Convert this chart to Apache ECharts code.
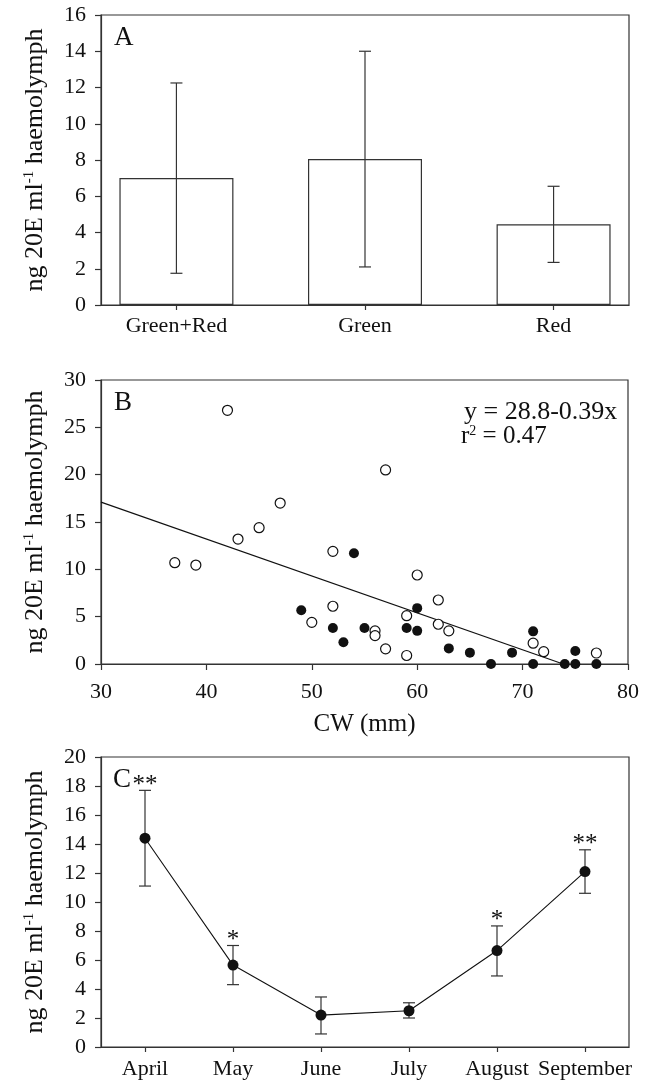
<!DOCTYPE html>
<html>
<head>
<meta charset="utf-8">
<script src="https://cdn.jsdelivr.net/npm/echarts@6/dist/echarts.min.js"></script>
<style>
  html, body { margin: 0; padding: 0; background: #fff; }
  #main { width: 650px; height: 1080px; }
</style>
</head>
<body>
<div id="main"></div>
<script>
  // panel A: colour groups
  const groupNames = ['Green+Red', 'Green', 'Red'];
  const groupMean = [7.0, 8.05, 4.45];
  const groupLow = [1.75, 2.1, 2.35];
  const groupHigh = [12.25, 14.0, 6.55];

  // panel B: CW vs ecdysteroid, open and filled circles
  const openCW = [37, 39, 42, 43, 45, 47, 50, 52, 52, 56, 56, 57, 57, 59, 59, 60, 62, 62, 63, 71, 72, 77];
  const openVal = [10.7, 10.45, 26.8, 13.2, 14.4, 17.0, 4.4, 11.9, 6.1, 3.5, 3.0, 20.5, 1.6, 5.1, 0.9, 9.4, 6.76, 4.2, 3.5, 2.2, 1.3, 1.16];
  const filledCW = [49, 52, 53, 54, 55, 59, 60, 60, 63, 65, 67, 69, 71, 71, 74, 75, 75, 77];
  const filledVal = [5.67, 3.8, 2.3, 11.7, 3.8, 3.8, 5.9, 3.5, 1.65, 1.2, 0.0, 1.2, 3.45, 0.0, 0.0, 0.0, 1.37, 0.0];
  const regIntercept = 28.8;
  const regSlope = -0.39;
  const regR2 = 0.47;

  // panel C: months
  const months = ['April', 'May', 'June', 'July', 'August', 'September'];
  const monthMean = [14.4, 5.65, 2.2, 2.5, 6.65, 12.1];
  const monthLow = [11.1, 4.3, 0.9, 2.0, 4.9, 10.6];
  const monthHigh = [17.7, 7.0, 3.45, 3.05, 8.35, 13.6];
  const monthSig = ['**', '*', '', '', '*', '**'];

  const serif = 'Liberation Serif';
  const ink = '#111';
  const lineCol = '#333';

  const chart = echarts.init(document.getElementById('main'));

  // 回归线端点，从方程算
  const regStart = 30;
  const regEnd = -regIntercept / regSlope;
  const regLine = [[regStart, regIntercept + regSlope * regStart], [regEnd, 0]];

  const errBar = function (sig) {
    return function (params, api) {
      const x = api.value(0);
      const top = api.coord([x, api.value(2)]);
      const bot = api.coord([x, api.value(1)]);
      const hw = 6;
      const st = { stroke: lineCol, lineWidth: 1.2 };
      const kids = [
        { type: 'line', shape: { x1: top[0], y1: top[1], x2: bot[0], y2: bot[1] }, style: st },
        { type: 'line', shape: { x1: top[0] - hw, y1: top[1], x2: top[0] + hw, y2: top[1] }, style: st },
        { type: 'line', shape: { x1: bot[0] - hw, y1: bot[1], x2: bot[0] + hw, y2: bot[1] }, style: st }
      ];
      if (sig && sig[params.dataIndex]) {
        kids.push({
          type: 'text',
          style: {
            text: sig[params.dataIndex], x: top[0], y: top[1] - 5,
            align: 'center', verticalAlign: 'middle',
            font: '25px "' + serif + '"', fill: ink
          }
        });
      }
      return { type: 'group', children: kids };
    };
  };

  const yTitle = {
    name: '{a|ng 20E ml}{s|-1}{a| haemolymph}',
    nameLocation: 'middle',
    nameRotate: 90,
    nameGap: 53,
    nameTextStyle: {
      rich: {
        a: { fontFamily: serif, fontSize: 26, color: ink },
        s: { fontFamily: serif, fontSize: 15, color: ink, verticalAlign: 'top' }
      }
    }
  };
  const axisBase = {
    axisLine: { show: true, onZero: false, lineStyle: { color: lineCol, width: 1.2 } },
    axisTick: { show: true, inside: false, length: 6, lineStyle: { color: lineCol, width: 1.2 } },
    splitLine: { show: false },
    axisLabel: { fontFamily: serif, fontSize: 22, color: ink, margin: 15 }
  };

  const option = {
    backgroundColor: '#fff',
    animation: false,
    grid: [
      { left: 101, top: 15, width: 528, height: 290, show: true, borderColor: lineCol, borderWidth: 1.2 },
      { left: 101, top: 380, width: 527, height: 284, show: true, borderColor: lineCol, borderWidth: 1.2 },
      { left: 101, top: 757, width: 528, height: 290, show: true, borderColor: lineCol, borderWidth: 1.2 }
    ],
    xAxis: [
      Object.assign({}, axisBase, {
        gridIndex: 0, type: 'value', min: 0.6, max: 3.4,
        axisTick: Object.assign({}, axisBase.axisTick, { customValues: [1, 2, 3], length: 5 }),
        axisLabel: Object.assign({}, axisBase.axisLabel, {
          customValues: [1, 2, 3], margin: 10,
          formatter: function (v) { return groupNames[Math.round(v) - 1]; }
        })
      }),
      Object.assign({}, axisBase, {
        gridIndex: 1, type: 'value', min: 30, max: 80, interval: 10,
        axisLabel: Object.assign({}, axisBase.axisLabel, { margin: 17 }),
        name: 'CW (mm)', nameLocation: 'middle', nameGap: 48,
        nameTextStyle: { fontFamily: serif, fontSize: 25, color: ink }
      }),
      Object.assign({}, axisBase, {
        gridIndex: 2, type: 'category', data: months, boundaryGap: true,
        axisTick: Object.assign({}, axisBase.axisTick, { alignWithLabel: true, length: 5 }),
        axisLabel: Object.assign({}, axisBase.axisLabel, { margin: 11, interval: 0 })
      })
    ],
    yAxis: [
      Object.assign({}, axisBase, yTitle, { gridIndex: 0, type: 'value', min: 0, max: 16, interval: 2 }),
      Object.assign({}, axisBase, yTitle, { gridIndex: 1, type: 'value', min: 0, max: 30, interval: 5 }),
      Object.assign({}, axisBase, yTitle, { gridIndex: 2, type: 'value', min: 0, max: 20, interval: 2 })
    ],
    graphic: [
      { type: 'text', left: 114, top: 24, style: { text: 'A', font: '27px "' + serif + '"', fill: ink } },
      { type: 'text', left: 114, top: 389, style: { text: 'B', font: '27px "' + serif + '"', fill: ink } },
      { type: 'text', left: 113, top: 766, style: { text: 'C', font: '27px "' + serif + '"', fill: ink } },
      {
        type: 'text', left: 464, top: 399,
        style: { text: 'y = ' + regIntercept.toFixed(1) + '-' + Math.abs(regSlope).toFixed(2) + 'x', font: '26px "' + serif + '"', fill: ink }
      },
      {
        type: 'text', left: 461, top: 424,
        style: {
          text: '{a|r}{s|2}{a| = ' + regR2.toFixed(2) + '}',
          rich: {
            a: { fontFamily: serif, fontSize: 25, fill: ink },
            s: { fontFamily: serif, fontSize: 14, fill: ink, verticalAlign: 'top' }
          }
        }
      }
    ],
    series: [
      {
        type: 'bar', xAxisIndex: 0, yAxisIndex: 0, barWidth: 114,
        data: groupMean.map(function (v, i) { return [i + 1, v]; }),
        itemStyle: { color: '#fff', borderColor: lineCol, borderWidth: 1.2 },
        z: 2
      },
      {
        type: 'custom', xAxisIndex: 0, yAxisIndex: 0, z: 3,
        renderItem: errBar(null),
        data: groupMean.map(function (v, i) { return [i + 1, groupLow[i], groupHigh[i]]; })
      },
      {
        type: 'line', xAxisIndex: 1, yAxisIndex: 1, data: regLine,
        symbol: 'none', lineStyle: { color: ink, width: 1.1 }, z: 2
      },
      {
        type: 'scatter', xAxisIndex: 1, yAxisIndex: 1, symbolSize: 10,
        data: openCW.map(function (x, i) { return [x, openVal[i]]; }),
        itemStyle: { color: '#fff', borderColor: ink, borderWidth: 1.2, opacity: 1 }, z: 3
      },
      {
        type: 'scatter', xAxisIndex: 1, yAxisIndex: 1, symbolSize: 10,
        data: filledCW.map(function (x, i) { return [x, filledVal[i]]; }),
        itemStyle: { color: ink, opacity: 1 }, z: 4
      },
      {
        type: 'custom', xAxisIndex: 2, yAxisIndex: 2, z: 2,
        renderItem: errBar(monthSig),
        data: months.map(function (m, i) { return [i, monthLow[i], monthHigh[i]]; })
      },
      {
        type: 'line', xAxisIndex: 2, yAxisIndex: 2, data: monthMean,
        symbol: 'circle', symbolSize: 11,
        itemStyle: { color: ink }, lineStyle: { color: ink, width: 1.1 }, z: 4
      }
    ]
  };
  chart.setOption(option);
</script>
</body>
</html>
